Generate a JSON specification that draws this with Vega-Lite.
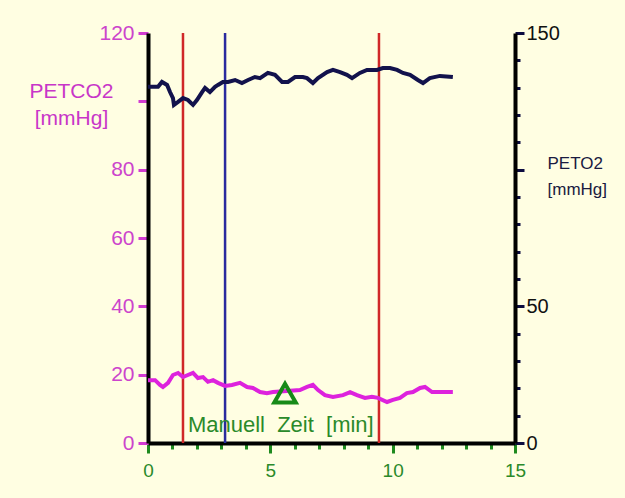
{
  "$schema": "https://vega.github.io/schema/vega-lite/v6.json",
  "width": 367,
  "height": 410,
  "autosize": "none",
  "padding": {"left": 148, "top": 33, "right": 110, "bottom": 55},
  "background": "#FFFEE2",
  "config": {
    "view": {"stroke": null},
    "font": "Liberation Sans",
    "axis": {"grid": false, "titleFontWeight": "normal", "labelFontWeight": "normal"}
  },
  "datasets": {
    "petco2": [
      {"t": 0.0, "v": 18.4}, {"t": 0.29, "v": 18.4}, {"t": 0.49, "v": 17.0}, {"t": 0.61, "v": 16.4},
      {"t": 0.82, "v": 17.6}, {"t": 1.02, "v": 19.9}, {"t": 1.23, "v": 20.5}, {"t": 1.43, "v": 19.3},
      {"t": 1.63, "v": 19.9}, {"t": 1.84, "v": 20.5}, {"t": 2.04, "v": 19.0}, {"t": 2.25, "v": 19.3},
      {"t": 2.45, "v": 17.9}, {"t": 2.66, "v": 18.4}, {"t": 2.86, "v": 17.6}, {"t": 3.15, "v": 16.7},
      {"t": 3.43, "v": 17.0}, {"t": 3.76, "v": 17.6}, {"t": 4.05, "v": 16.4}, {"t": 4.29, "v": 16.1},
      {"t": 4.58, "v": 14.9}, {"t": 4.86, "v": 14.6}, {"t": 5.11, "v": 14.9}, {"t": 5.68, "v": 15.2},
      {"t": 6.21, "v": 15.5}, {"t": 6.5, "v": 16.4}, {"t": 6.74, "v": 17.0}, {"t": 6.95, "v": 15.5},
      {"t": 7.23, "v": 14.0}, {"t": 7.56, "v": 13.5}, {"t": 7.97, "v": 14.0}, {"t": 8.26, "v": 14.9},
      {"t": 8.54, "v": 14.0}, {"t": 8.87, "v": 13.2}, {"t": 9.15, "v": 13.5}, {"t": 9.4, "v": 13.2},
      {"t": 9.77, "v": 12.0}, {"t": 10.01, "v": 12.6}, {"t": 10.3, "v": 13.2}, {"t": 10.58, "v": 14.6},
      {"t": 10.83, "v": 14.9}, {"t": 11.12, "v": 16.1}, {"t": 11.32, "v": 16.4}, {"t": 11.61, "v": 14.9},
      {"t": 11.93, "v": 14.9}, {"t": 12.46, "v": 14.9}
    ],
    "peto2": [
      {"t": 0.0, "po2": 130.3}, {"t": 0.41, "po2": 130.3}, {"t": 0.57, "po2": 132.1}, {"t": 0.78, "po2": 131.0},
      {"t": 0.9, "po2": 128.4}, {"t": 1.02, "po2": 126.2}, {"t": 1.06, "po2": 123.7}, {"t": 1.23, "po2": 124.8},
      {"t": 1.43, "po2": 126.2}, {"t": 1.63, "po2": 125.5}, {"t": 1.84, "po2": 123.7}, {"t": 2.0, "po2": 125.5},
      {"t": 2.21, "po2": 128.4}, {"t": 2.33, "po2": 129.9}, {"t": 2.53, "po2": 128.4}, {"t": 2.74, "po2": 130.3},
      {"t": 2.86, "po2": 131.0}, {"t": 3.06, "po2": 132.1}, {"t": 3.27, "po2": 132.1}, {"t": 3.56, "po2": 132.8},
      {"t": 3.84, "po2": 131.7}, {"t": 4.09, "po2": 132.8}, {"t": 4.37, "po2": 133.9}, {"t": 4.58, "po2": 133.5},
      {"t": 4.9, "po2": 135.4}, {"t": 5.19, "po2": 134.7}, {"t": 5.48, "po2": 132.1}, {"t": 5.72, "po2": 132.1},
      {"t": 6.01, "po2": 133.9}, {"t": 6.33, "po2": 133.9}, {"t": 6.5, "po2": 133.5}, {"t": 6.74, "po2": 131.7},
      {"t": 6.95, "po2": 133.5}, {"t": 7.32, "po2": 135.7}, {"t": 7.56, "po2": 136.5}, {"t": 7.85, "po2": 135.7},
      {"t": 8.13, "po2": 134.7}, {"t": 8.34, "po2": 133.5}, {"t": 8.66, "po2": 135.4}, {"t": 8.95, "po2": 136.5},
      {"t": 9.36, "po2": 136.5}, {"t": 9.6, "po2": 137.2}, {"t": 9.89, "po2": 137.2}, {"t": 10.18, "po2": 136.5},
      {"t": 10.42, "po2": 135.4}, {"t": 10.71, "po2": 134.7}, {"t": 11.03, "po2": 132.8}, {"t": 11.24, "po2": 131.7},
      {"t": 11.52, "po2": 133.5}, {"t": 11.93, "po2": 134.3}, {"t": 12.46, "po2": 133.9}
    ],
    "cursors": [
      {"t": 1.43, "kind": "Marke"},
      {"t": 3.15, "kind": "Cursor"},
      {"t": 9.44, "kind": "Marke"}
    ],
    "events": [
      {"t": 5.6, "v": 14.6}
    ],
    "notes": [
      {"t": 1.63, "v": 3.2, "label": "Manuell\u00a0 Zeit\u00a0 [min]"}
    ]
  },
  "encoding": {
    "x": {
      "field": "t",
      "type": "quantitative",
      "scale": {"domain": [0, 15], "nice": false, "zero": false},
      "axis": {
        "values": [0, 1, 2, 3, 4, 5, 6, 7, 8, 9, 10, 11, 12, 13, 14, 15],
        "labelExpr": "datum.value % 5 === 0 ? datum.label : ''",
        "title": null,
        "domainColor": "#000000",
        "domainWidth": 4,
        "tickColor": "#1E8A1E",
        "tickWidth": 3,
        "tickSize": {"condition": {"test": "datum.value % 5 === 0", "value": 10}, "value": 6},
        "labelColor": "#2A8A2A",
        "labelFontSize": 19,
        "labelPadding": 8,
        "labelFlush": false
      }
    }
  },
  "layer": [
    {
      "layer": [
        {
          "data": {"name": "cursors"},
          "mark": {"type": "rule", "strokeWidth": 2.5},
          "encoding": {
            "color": {
              "field": "kind",
              "type": "nominal",
              "scale": {"domain": ["Marke", "Cursor"], "range": ["#D02828", "#2A2A9E"]},
              "legend": null
            }
          }
        },
        {
          "data": {"name": "petco2"},
          "mark": {"type": "line", "color": "#DD22DD", "strokeWidth": 4},
          "encoding": {
            "y": {
              "field": "v",
              "type": "quantitative",
              "scale": {"domain": [0, 120], "nice": false},
              "axis": {
                "values": [0, 10, 20, 30, 40, 50, 60, 70, 80, 90, 100, 110, 120],
                "labelExpr": "datum.value % 20 === 0 && datum.value !== 100 ? datum.label : ''",
                "domainColor": "#000000",
                "domainWidth": 4,
                "tickColor": "#D23CD2",
                "tickWidth": 3,
                "tickSize": {"condition": {"test": "datum.value % 20 === 0", "value": 10}, "value": 6},
                "labelColor": "#CC44CC",
                "labelFontSize": 21,
                "labelPadding": 4,
                "title": ["PETCO2", "[mmHg]"],
                "titleAngle": 0,
                "titleAlign": "center",
                "titleBaseline": "alphabetic",
                "titleX": -77,
                "titleY": 64,
                "titleColor": "#C836C8",
                "titleFontSize": 21,
                "titleLineHeight": 27
              }
            }
          }
        },
        {
          "data": {"name": "events"},
          "mark": {"type": "point", "shape": "triangle-up", "filled": false, "color": "#178A17", "strokeWidth": 4, "size": 460, "opacity": 1},
          "encoding": {"y": {"field": "v", "type": "quantitative"}}
        },
        {
          "data": {"name": "notes"},
          "mark": {"type": "text", "align": "left", "baseline": "alphabetic", "color": "#2A8A2A", "fontSize": 22},
          "encoding": {
            "y": {"field": "v", "type": "quantitative"},
            "text": {"field": "label"}
          }
        }
      ]
    },
    {
      "data": {"name": "peto2"},
      "mark": {"type": "line", "color": "#12124C", "strokeWidth": 4},
      "encoding": {
        "y": {
          "field": "po2",
          "type": "quantitative",
          "scale": {"domain": [0, 150], "nice": false},
          "axis": {
            "orient": "right",
            "values": [0, 10, 20, 30, 40, 50, 60, 70, 80, 90, 100, 110, 120, 130, 140, 150],
            "labelExpr": "datum.value === 0 || datum.value === 50 || datum.value === 150 ? datum.label : ''",
            "domainColor": "#000000",
            "domainWidth": 4,
            "tickColor": "#0C0C40",
            "tickWidth": 3,
            "tickSize": {"condition": {"test": "datum.value % 50 === 0", "value": 9}, "value": 5},
            "labelColor": "#111111",
            "labelFontSize": 20,
            "labelPadding": 2,
            "title": ["PETO2", "[mmHg]"],
            "titleAngle": 0,
            "titleAlign": "left",
            "titleBaseline": "alphabetic",
            "titleX": 32,
            "titleY": 135,
            "titleColor": "#1A1A40",
            "titleFontSize": 17,
            "titleLineHeight": 26
          }
        }
      }
    }
  ],
  "resolve": {"scale": {"y": "independent"}}
}
